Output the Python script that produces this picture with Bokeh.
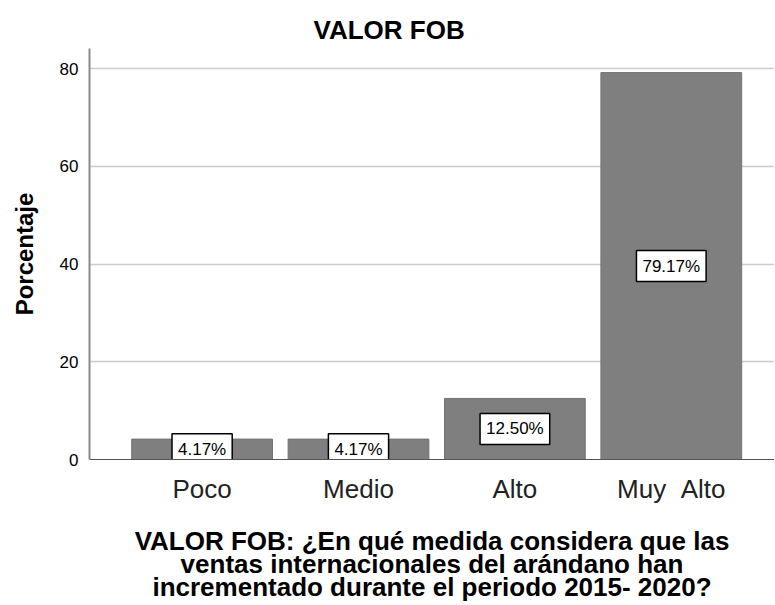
from bokeh.plotting import figure
from bokeh.models import Range1d, FixedTicker, ColumnDataSource
from bokeh.core.properties import value
from bokeh.embed import file_html
from bokeh.resources import INLINE

categories = ["Poco", "Medio", "Alto", "Muy  Alto"]
percentages = [4.17, 4.17, 12.50, 79.17]
label_texts = ["4.17%", "4.17%", "12.50%", "79.17%"]
y_ticks = [0, 20, 40, 60, 80]
x_title_lines = ["VALOR FOB: ¿En qué medida considera que las",
                 "ventas internacionales del arándano han",
                 "incrementado durante el periodo 2015- 2020?"]

FONT = "Liberation Sans"

xs = list(range(1, len(categories) + 1))
src = ColumnDataSource(dict(
    x=xs, top=percentages, mid=[v / 2 for v in percentages], lab=label_texts
))

p = figure(width=774, height=605, output_backend="svg", toolbar_location=None,
           x_range=Range1d(0.28, 4.66), y_range=Range1d(0, 84.1),
           min_border_left=89, min_border_right=0, min_border_top=48,
           min_border_bottom=145, title="VALOR FOB")

p.vbar(x="x", top="top", width=0.9, source=src,
       fill_color="#7f7f7f", line_color="#737373", line_width=1)

p.text(x="x", y="mid", text="lab", source=src,
       text_font=value(FONT), text_font_size="17px", text_color="black",
       text_align="center", text_baseline="middle",
       background_fill_color="white", border_line_color="black",
       border_line_width=1.5, padding=6)

p.title.text_font = FONT
p.title.text_font_size = "26px"
p.title.text_font_style = "bold"
p.title.text_color = "black"
p.title.align = "left"
p.title.offset = 224
p.title.standoff = 8

p.outline_line_color = None
p.xgrid.grid_line_color = None
p.ygrid.grid_line_color = "#cccccc"
p.ygrid.grid_line_width = 1.5

p.yaxis.ticker = FixedTicker(ticks=y_ticks)
p.yaxis.axis_line_color = "#8a8a8a"
p.yaxis.axis_line_width = 2
p.yaxis.major_tick_line_color = None
p.yaxis.major_tick_out = 0
p.yaxis.major_tick_in = 0
p.yaxis.minor_tick_line_color = None
p.yaxis.major_label_text_font = FONT
p.yaxis.major_label_text_font_size = "17px"
p.yaxis.major_label_text_color = "black"
p.yaxis.major_label_standoff = 11
p.yaxis.axis_label = "Porcentaje"
p.yaxis.axis_label_text_font = FONT
p.yaxis.axis_label_text_font_size = "24px"
p.yaxis.axis_label_text_font_style = "bold"
p.yaxis.axis_label_text_color = "black"
p.yaxis.axis_label_standoff = 19

p.xaxis.ticker = FixedTicker(ticks=xs)
p.xaxis.major_label_overrides = {x: c.replace(" ", "\u00a0") for x, c in zip(xs, categories)}
p.xaxis.axis_line_color = "#555555"
p.xaxis.axis_line_width = 1
p.xaxis.major_tick_line_color = None
p.xaxis.major_tick_out = 0
p.xaxis.major_tick_in = 0
p.xaxis.minor_tick_line_color = None
p.xaxis.major_label_text_font = FONT
p.xaxis.major_label_text_font_size = "26px"
p.xaxis.major_label_text_color = "#222222"
p.xaxis.major_label_standoff = 14
p.xaxis.axis_label = "\n".join(x_title_lines)
p.xaxis.axis_label_text_font = FONT
p.xaxis.axis_label_text_font_size = "26px"
p.xaxis.axis_label_text_font_style = "bold"
p.xaxis.axis_label_text_color = "black"
p.xaxis.axis_label_text_line_height = 0.78
p.xaxis.axis_label_standoff = 19

open("out.html", "w").write(file_html(p, INLINE))
